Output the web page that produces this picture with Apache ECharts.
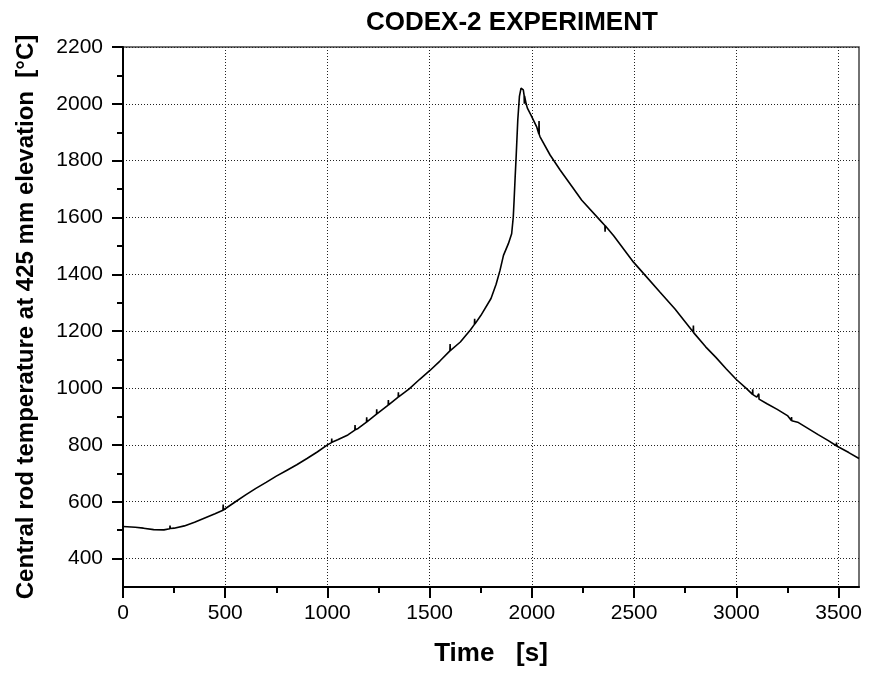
<!DOCTYPE html>
<html>
<head>
<meta charset="utf-8">
<script src="https://cdn.jsdelivr.net/npm/echarts@6/dist/echarts.min.js"></script>
<style>html,body{margin:0;padding:0;background:#fff}#chart{width:869px;height:676px}</style>
</head>
<body>
<div id="chart"></div>
<script>
// ---- data ----
const times = [0, 20, 40, 60, 100, 150, 200, 229, 230, 231, 250, 300, 350, 400, 450, 489, 490, 491, 500, 550, 600, 650, 700, 750, 800, 850, 900, 950, 1000, 1020, 1021, 1022, 1050, 1100, 1134, 1135, 1136, 1150, 1191, 1192, 1193, 1200, 1240, 1241, 1242, 1250, 1297, 1298, 1299, 1300, 1346, 1347, 1348, 1350, 1400, 1450, 1500, 1550, 1599, 1600, 1601, 1650, 1700, 1719, 1720, 1721, 1750, 1800, 1825, 1844, 1861, 1885, 1901, 1909, 1913, 1918, 1923, 1931, 1939, 1947, 1953, 1958, 1962, 1963, 1964, 1972, 1978, 1995, 2024, 2034, 2035, 2036, 2040, 2089, 2138, 2203, 2244, 2334, 2357, 2358, 2359, 2400, 2497, 2550, 2627, 2700, 2789, 2790, 2791, 2850, 2900, 2950, 3000, 3050, 3079, 3080, 3081, 3100, 3109, 3110, 3111, 3150, 3200, 3250, 3269, 3270, 3271, 3300, 3350, 3400, 3450, 3489, 3490, 3491, 3500, 3550, 3600];
const temps = [513, 512, 511, 510, 507, 502, 501, 505, 516, 506, 507, 515, 528, 543, 558, 570, 590, 571, 574, 600, 624, 647, 668, 690, 710, 730, 752, 775, 800, 808, 822, 809, 818, 835, 852, 870, 853, 858, 880, 897, 881, 884, 908, 925, 909, 913, 940, 958, 941, 942, 968, 985, 969, 971, 997, 1030, 1061, 1095, 1131, 1155, 1132, 1162, 1205, 1224, 1244, 1225, 1255, 1315, 1365, 1414, 1467, 1508, 1543, 1602, 1661, 1740, 1814, 1943, 2026, 2055, 2056, 2049, 2030, 2000, 2028, 2000, 1985, 1961, 1918, 1894, 1940, 1892, 1884, 1820, 1767, 1702, 1661, 1590, 1572, 1550, 1571, 1536, 1443, 1400, 1337, 1278, 1197, 1220, 1195, 1145, 1108, 1068, 1030, 998, 978, 996, 977, 968, 962, 980, 961, 945, 925, 903, 886, 898, 885, 880, 858, 836, 815, 797, 808, 796, 794, 773, 752];
const xTickValues = [0, 500, 1000, 1500, 2000, 2500, 3000, 3500];
const xMinorValues = [250, 750, 1250, 1750, 2250, 2750, 3250];
const yTickValues = [400, 600, 800, 1000, 1200, 1400, 1600, 1800, 2000, 2200];
const yMinorValues = [500, 700, 900, 1100, 1300, 1500, 1700, 1900, 2100];

const seriesData = times.map((t, i) => [t, temps[i]]);
const FONT = 'Liberation Sans, Arial, sans-serif';
const plain = v => String(v);

const chart = echarts.init(document.getElementById('chart'), null, {renderer: 'canvas'});
chart.setOption({
  animation: false,
  backgroundColor: '#fff',
  title: {
    text: 'CODEX-2 EXPERIMENT',
    left: 361, top: 5,
    textStyle: {fontFamily: FONT, fontSize: 26, fontWeight: 'bold', color: '#000'}
  },
  grid: {left: 123, right: 10, top: 47, bottom: 89, show: true, borderColor: '#444', borderWidth: 1.5, backgroundColor: 'transparent'},
  xAxis: [{
    type: 'value', min: 0, max: 3600, position: 'bottom',
    name: 'Time   [s]', nameLocation: 'middle', nameGap: 54,
    nameTextStyle: {fontFamily: FONT, fontSize: 26, fontWeight: 'bold', color: '#000'},
    axisLine: {show: true, onZero: false, lineStyle: {color: '#000', width: 2}},
    axisTick: {show: true, inside: false, length: 11, customValues: xTickValues, lineStyle: {color: '#000', width: 2}},
    axisLabel: {customValues: xTickValues, formatter: plain, fontFamily: FONT, fontSize: 21, color: '#000', margin: 16},
    splitLine: {show: true, lineStyle: {type: [1, 2], color: '#222', width: 1}}
  }, {
    type: 'value', min: 0, max: 3600, position: 'bottom',
    axisLine: {show: false},
    axisTick: {show: true, inside: false, length: 6, customValues: xMinorValues, lineStyle: {color: '#000', width: 2}},
    axisLabel: {show: false},
    splitLine: {show: false}
  }],
  yAxis: [{
    type: 'value', min: 300, max: 2200, position: 'left',
    name: 'Central rod temperature at 425 mm elevation  [°C]', nameLocation: 'middle', nameGap: 85,
    nameTextStyle: {fontFamily: FONT, fontSize: 24, fontWeight: 'bold', color: '#000'},
    axisLine: {show: true, onZero: false, lineStyle: {color: '#000', width: 2}},
    axisTick: {show: true, inside: false, length: 11, customValues: yTickValues, lineStyle: {color: '#000', width: 2}},
    axisLabel: {customValues: yTickValues, formatter: plain, fontFamily: FONT, fontSize: 21, color: '#000', margin: 20},
    splitLine: {show: true, lineStyle: {type: [1, 2], color: '#222', width: 1}}
  }, {
    type: 'value', min: 300, max: 2200, position: 'left',
    axisLine: {show: false},
    axisTick: {show: true, inside: false, length: 6, customValues: yMinorValues, lineStyle: {color: '#000', width: 2}},
    axisLabel: {show: false},
    splitLine: {show: false}
  }],
  series: [{
    type: 'line',
    xAxisIndex: 0, yAxisIndex: 0,
    data: seriesData,
    showSymbol: false,
    symbol: 'none',
    lineStyle: {color: '#000', width: 1.6},
    z: 5
  }]
});
</script>
</body>
</html>
